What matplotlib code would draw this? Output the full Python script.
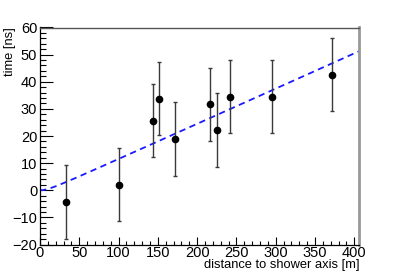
import numpy as np
import matplotlib
matplotlib.use('Agg')
import matplotlib.pyplot as plt
from matplotlib.ticker import MultipleLocator

# measured arrival times vs. distance to shower axis
distance = [33, 101, 144, 151, 172, 216, 225, 242, 295, 372]
time_ns = [-4.3, 2.0, 25.6, 33.7, 18.9, 31.7, 22.2, 34.5, 34.5, 42.6]
time_err = [13.5, 13.5, 13.5, 13.5, 13.5, 13.5, 13.5, 13.5, 13.5, 13.5]

# fitted shower front (curved, hyperbolic-like)
fit_slope = 0.13
fit_offset = 12.0

plt.rcParams['font.family'] = ['Liberation Sans', 'DejaVu Sans']

fig = plt.figure(figsize=(3.99, 2.72), dpi=100)
ax = fig.add_axes([40 / 399, 27.5 / 272, 319 / 399, 217 / 272])

x_fit = np.linspace(0, 406, 300)
y_fit = fit_slope * (np.sqrt(x_fit ** 2 + fit_offset ** 2) - fit_offset)
ax.plot(x_fit, y_fit, color='#1a1aff', lw=1.3, ls=(0, (3.5, 2.5)), zorder=2)

ax.errorbar(distance, time_ns, yerr=time_err, fmt='o', color='black', ms=4.5,
            ecolor='#3a3a3a', elinewidth=1.0, capsize=1.5, capthick=1.0, zorder=3)

ax.set_xlim(0, 406)
ax.set_ylim(-20, 60)
ax.xaxis.set_major_locator(MultipleLocator(50))
ax.xaxis.set_minor_locator(MultipleLocator(10))
ax.yaxis.set_major_locator(MultipleLocator(10))
ax.yaxis.set_minor_locator(MultipleLocator(2))
ax.tick_params(axis='x', which='major', direction='in', length=6, width=0.8, labelsize=10.5, pad=1)
ax.tick_params(axis='x', which='minor', direction='in', length=3, width=0.8)
ax.tick_params(axis='y', which='major', direction='in', length=9, width=0.8, labelsize=10.5, pad=2)
ax.tick_params(axis='y', which='minor', direction='in', length=4.5, width=0.8)

for side in ('left', 'bottom'):
    ax.spines[side].set_color('black')
    ax.spines[side].set_linewidth(0.9)
ax.spines['top'].set_color('#555555')
ax.spines['top'].set_linewidth(1.0)
ax.spines['right'].set_color('#999999')
ax.spines['right'].set_linewidth(2.0)

ax.set_xlabel('distance to shower axis [m]', fontsize=9.3, loc='right')
ax.xaxis.set_label_coords(1.0, -0.068)
ax.xaxis.label.set_va('top')
ax.set_ylabel('time [ns]', fontsize=9.3, loc='top')
ax.yaxis.set_label_coords(-0.095, 1.0)
ax.yaxis.label.set_va('center')

fig.savefig('out.png', dpi=100)
